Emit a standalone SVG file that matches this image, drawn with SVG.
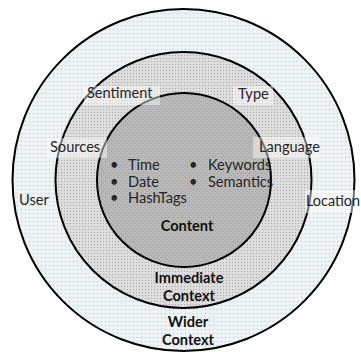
<svg xmlns="http://www.w3.org/2000/svg" width="361" height="352" viewBox="0 0 361 352">
  <defs>
    <pattern id="pOuter" width="4" height="4" patternUnits="userSpaceOnUse">
      <rect width="4" height="4" fill="#edf2f5"/>
      <rect x="1" y="1" width="1" height="1" fill="#b9c2c9"/>
    </pattern>
    <pattern id="pMid" width="3" height="3" patternUnits="userSpaceOnUse">
      <rect width="3" height="3" fill="#dddddd"/>
      <rect x="1" y="1" width="1" height="1" fill="#a6a6a6"/>
    </pattern>
    <pattern id="pInner" width="4" height="4" patternUnits="userSpaceOnUse">
      <rect width="4" height="4" fill="#bababa"/>
      <rect x="1" y="1" width="1" height="1" fill="#8c8c8c"/>
      <rect x="3" y="3" width="1" height="1" fill="#a0a0a0"/>
    </pattern>
  </defs>
  <style>
    .ring { stroke: #000; stroke-width: 2; }
    .lbl { font-family: Lato, "Liberation Sans", sans-serif; font-size: 14.6px; fill: #262626; }
    .bold { font-weight: bold; text-anchor: middle; fill: #111; }
    .box { fill: #ffffff; fill-opacity: 0.45; }
  </style>
  <rect width="361" height="352" fill="#ffffff"/>
  <g id="wider-context">
    <circle class="ring" cx="183.5" cy="180" r="171" fill="url(#pOuter)"/>
  </g>
  <g id="immediate-context">
    <circle class="ring" cx="183.5" cy="180" r="128" fill="url(#pMid)"/>
  </g>
  <g id="content">
    <circle class="ring" cx="184" cy="180" r="87" fill="url(#pInner)"/>
  </g>
  <g id="labels-boxes">
    <rect class="box" x="84" y="86" width="76" height="19"/>
    <rect class="box" x="233" y="86" width="40" height="19"/>
    <rect class="box" x="47" y="138" width="60" height="20"/>
    <rect class="box" x="253" y="137" width="66" height="21"/>
    <rect class="box" x="305" y="190" width="56" height="23"/>
  </g>
  <g id="node-sentiment"><text class="lbl" x="87" y="98">Sentiment</text></g>
  <g id="node-type"><text class="lbl" x="238" y="99">Type</text></g>
  <g id="node-sources"><text class="lbl" x="50" y="152">Sources</text></g>
  <g id="node-language"><text class="lbl" x="259" y="152">Language</text></g>
  <g id="node-user"><text class="lbl" x="19" y="205">User</text></g>
  <g id="node-location"><text class="lbl" x="306" y="206" textLength="54" lengthAdjust="spacingAndGlyphs">Location</text></g>
  <g id="content-items">
    <text class="lbl" x="110" y="170">•</text><text class="lbl" x="128" y="170">Time</text>
    <text class="lbl" x="110" y="187">•</text><text class="lbl" x="128" y="187">Date</text>
    <text class="lbl" x="110" y="203">•</text><text class="lbl" x="128" y="203">HashTags</text>
    <text class="lbl" x="189" y="170">•</text><text class="lbl" x="208" y="170">Keywords</text>
    <text class="lbl" x="189" y="187">•</text><text class="lbl" x="208" y="187">Semantics</text>
  </g>
  <g id="titles">
    <text class="lbl bold" x="187" y="231">Content</text>
    <text class="lbl bold" x="189" y="283">Immediate</text>
    <text class="lbl bold" x="189" y="301">Context</text>
    <text class="lbl bold" x="188" y="327">Wider</text>
    <text class="lbl bold" x="188" y="345">Context</text>
  </g>
  <g id="connectors"></g>
</svg>
